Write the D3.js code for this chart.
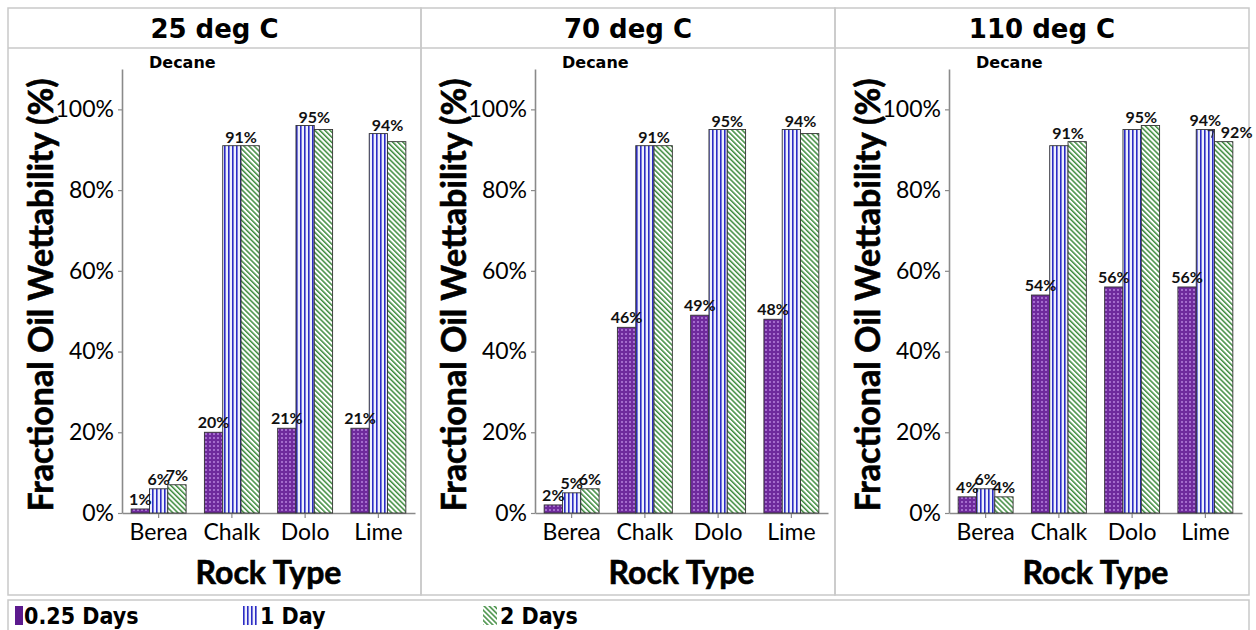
<!DOCTYPE html>
<html>
<head>
<meta charset="utf-8">
<script src="https://cdn.jsdelivr.net/npm/d3@7"></script>
<style>
  body { margin: 0; background: #fff; }
  svg { display: block; }
</style>
</head>
<body>
<div id="chart"></div>
<script>
// DATA
const rocks = ["Berea", "Chalk", "Dolo", "Lime"];
const temps = ["25 deg C", "70 deg C", "110 deg C"];
const seriesNames = ["0.25 Days", "1 Day", "2 Days"];
const yTicks = [0, 20, 40, 60, 80, 100];

// values per panel (25, 70, 110 deg C), in rock order
const days025 = [[1, 20, 21, 21], [2, 46, 49, 48], [4, 54, 56, 56]];
const day1 = [[6, 91, 96, 94], [5, 91, 95, 95], [6, 91, 95, 95]];
const day2 = [[7, 91, 95, 92], [6, 91, 95, 94], [4, 92, 96, 92]];

// bar labels as printed (null = no label)
const labels025 = [["1%", "20%", "21%", "21%"], ["2%", "46%", "49%", "48%"], ["4%", "54%", "56%", "56%"]];
const labels1 = [["6%", "91%", "95%", "94%"], ["5%", "91%", "95%", "94%"], ["6%", "91%", "95%", "94%"]];
const labels2 = [["7%", null, null, null], ["6%", null, null, null], ["4%", null, null, "92%"]];
// where the 1 Day label sits: over its bar, or on the edge shared with 2 Days
const place1 = [["mid", "edge", "edge", "edge"], ["mid", "edge", "edge", "edge"], ["mid", "edge", "edge", "mid"]];

// CANVAS SETUP
const width = 1256, height = 630;
const panelLeft = [8, 421, 835], panelRight = 1249;
const frameTop = 8, titleLine = 48, panelBottom = 595;
const yBase = 513, yTop = 69;

const svg = d3.select("#chart").append("svg")
  .attr("width", width).attr("height", height);

svg.append("rect").attr("width", width).attr("height", height).attr("fill", "#fff");

// patterns
const defs = svg.append("defs");
const pPurple = defs.append("pattern").attr("id", "pPurple")
  .attr("patternUnits", "userSpaceOnUse").attr("width", 4).attr("height", 4);
pPurple.append("rect").attr("width", 4).attr("height", 4).attr("fill", "#6e2a9c");
pPurple.append("rect").attr("x", 1).attr("y", 1).attr("width", 2).attr("height", 2).attr("fill", "#a46ccc");

const pBlue = defs.append("pattern").attr("id", "pBlue")
  .attr("patternUnits", "userSpaceOnUse").attr("width", 4).attr("height", 4);
pBlue.append("rect").attr("width", 4).attr("height", 4).attr("fill", "#eef0fc");
pBlue.append("rect").attr("x", 0).attr("width", 1.6).attr("height", 4).attr("fill", "#2c2cc4");

const pGreen = defs.append("pattern").attr("id", "pGreen")
  .attr("patternUnits", "userSpaceOnUse").attr("width", 3.6).attr("height", 3.6)
  .attr("patternTransform", "rotate(-45)");
pGreen.append("rect").attr("width", 3.6).attr("height", 3.6).attr("fill", "#fff");
pGreen.append("rect").attr("width", 1.5).attr("height", 3.6).attr("fill", "#3d8b3d");

const fills = ["url(#pPurple)", "url(#pBlue)", "url(#pGreen)"];
const swatchFills = ["#5c1a8e", "url(#pBlue)", "url(#pGreen)"];

const frameColor = "#c9c9c9";

// heavy axis-title look
const heavy = sel => sel
  .style("font-family", "Lato, sans-serif").style("font-weight", "bold")
  .attr("fill", "#000").attr("stroke", "#000").attr("stroke-width", 0.6);

temps.forEach((temp, p) => {
  const px = panelLeft[p];
  const pr = p < 2 ? panelLeft[p + 1] : panelRight;
  const g = svg.append("g");

  // panel frame
  g.append("rect").attr("x", px).attr("y", frameTop).attr("width", pr - px).attr("height", panelBottom - frameTop)
    .attr("fill", "none").attr("stroke", frameColor).attr("stroke-width", 1.5);
  g.append("line").attr("x1", px).attr("x2", pr).attr("y1", titleLine).attr("y2", titleLine)
    .attr("stroke", frameColor).attr("stroke-width", 1.5);

  g.append("text").attr("x", (px + pr) / 2).attr("y", 38)
    .attr("text-anchor", "middle")
    .style("font-family", "'DejaVu Sans', sans-serif").style("font-weight", "bold").style("font-size", "26px")
    .text(temp);

  const ax0 = px + 114, ax1 = px + 407;

  const x = d3.scaleBand().domain(rocks).range([ax0, ax1]).paddingInner(0.25).paddingOuter(0.125);
  const xs = d3.scaleBand().domain(seriesNames).range([0, x.bandwidth()]);
  const y = d3.scaleLinear().domain([0, 110]).range([yBase, yTop]);

  // axes
  const yAxis = g.append("g").attr("transform", `translate(${ax0},0)`)
    .call(d3.axisLeft(y).tickValues(yTicks).tickFormat(d => d + "%").tickSize(4).tickSizeOuter(0).tickPadding(4));
  const xAxis = g.append("g").attr("transform", `translate(0,${yBase})`)
    .call(d3.axisBottom(x).tickSize(5).tickSizeOuter(0).tickPadding(6));
  [yAxis, xAxis].forEach(a => {
    a.select(".domain").attr("stroke", "#8a8a8a").attr("stroke-width", 1.6);
    a.selectAll(".tick line").attr("stroke", "#8a8a8a").attr("stroke-width", 1.2);
    a.selectAll("text").attr("fill", "#000")
      .style("font-family", "Lato, sans-serif").style("font-size", "23px");
  });

  // axis titles
  g.append("text")
    .attr("transform", `translate(${px + 45},${295}) rotate(-90)`)
    .attr("text-anchor", "middle")
    .call(heavy).style("font-size", "34px")
    .text("Fractional Oil Wettability (%)");
  g.append("text").attr("x", (ax0 + ax1) / 2).attr("y", 584)
    .attr("text-anchor", "middle")
    .call(heavy).style("font-size", "32px")
    .text("Rock Type");

  g.append("text").attr("x", ax0 + 27).attr("y", 68)
    .style("font-family", "'DejaVu Sans', sans-serif").style("font-weight", "bold").style("font-size", "16px")
    .text("Decane");

  // RENDER bars
  const seriesData = [days025[p], day1[p], day2[p]];
  seriesData.forEach((vals, s) => {
    g.append("g").selectAll("rect")
      .data(vals.map((v, i) => ({ rock: rocks[i], value: v })))
      .join("rect")
      .attr("x", d => x(d.rock) + xs(seriesNames[s]))
      .attr("y", d => y(d.value))
      .attr("width", xs.bandwidth())
      .attr("height", d => y(0) - y(d.value))
      .attr("fill", fills[s])
      .attr("stroke", "#333")
      .attr("stroke-width", 0.9);
  });

  // labels
  const labelStyle = sel => sel
    .attr("text-anchor", "middle")
    .style("font-family", "Lato, sans-serif").style("font-weight", "bold").style("font-size", "16px")
    .attr("fill", "#111");

  const lg = g.append("g");
  rocks.forEach((rock, i) => {
    const bw = xs.bandwidth();
    const x0 = x(rock) + xs(seriesNames[0]);
    const x1 = x(rock) + xs(seriesNames[1]);
    const x2 = x(rock) + xs(seriesNames[2]);
    if (labels025[p][i]) {
      lg.append("text").call(labelStyle)
        .attr("x", x0 + bw / 2).attr("y", y(days025[p][i]) - 4).text(labels025[p][i]);
    }
    if (labels1[p][i]) {
      if (place1[p][i] === "mid") {
        lg.append("text").call(labelStyle)
          .attr("x", x1 + bw / 2).attr("y", y(day1[p][i]) - 4).text(labels1[p][i]);
      } else {
        lg.append("text").call(labelStyle)
          .attr("x", x1 + bw).attr("y", Math.min(y(day1[p][i]), y(day2[p][i])) - 3).text(labels1[p][i]);
      }
    }
    if (labels2[p][i]) {
      if (i === 0) {
        lg.append("text").call(labelStyle)
          .attr("x", x2 + bw / 2).attr("y", y(day2[p][i]) - 4).text(labels2[p][i]);
      } else {
        // label pushed right with a small leader line
        const ty = y(day2[p][i]);
        lg.append("text").call(labelStyle)
          .attr("x", x2 + bw / 2 + 13).attr("y", ty - 4).text(labels2[p][i]);
        lg.append("path")
          .attr("d", `M${x2 - 7},${ty - 11}H${x2 - 1}L${x2 - 3},${ty - 4}`)
          .attr("fill", "none").attr("stroke", "#222").attr("stroke-width", 1);
      }
    }
  });
});

// LEGEND
svg.append("rect").attr("x", 8).attr("y", 600).attr("width", panelRight - 8).attr("height", 40)
  .attr("fill", "none").attr("stroke", frameColor).attr("stroke-width", 1.5);

const legendX = [15, 243, 483];
const legend = svg.append("g").selectAll("g").data(seriesNames).join("g")
  .attr("transform", (d, i) => `translate(${legendX[i]},606)`);
legend.append("rect").attr("width", (d, i) => i === 0 ? 8 : 14).attr("height", 19)
  .attr("fill", (d, i) => swatchFills[i]);
legend.append("text").attr("x", (d, i) => i === 0 ? 9 : 17).attr("y", 18)
  .style("font-family", "'DejaVu Sans', sans-serif").style("font-weight", "bold").style("font-size", "23px")
  .style("font-stretch", "condensed")
  .text(d => d);
</script>
</body>
</html>
